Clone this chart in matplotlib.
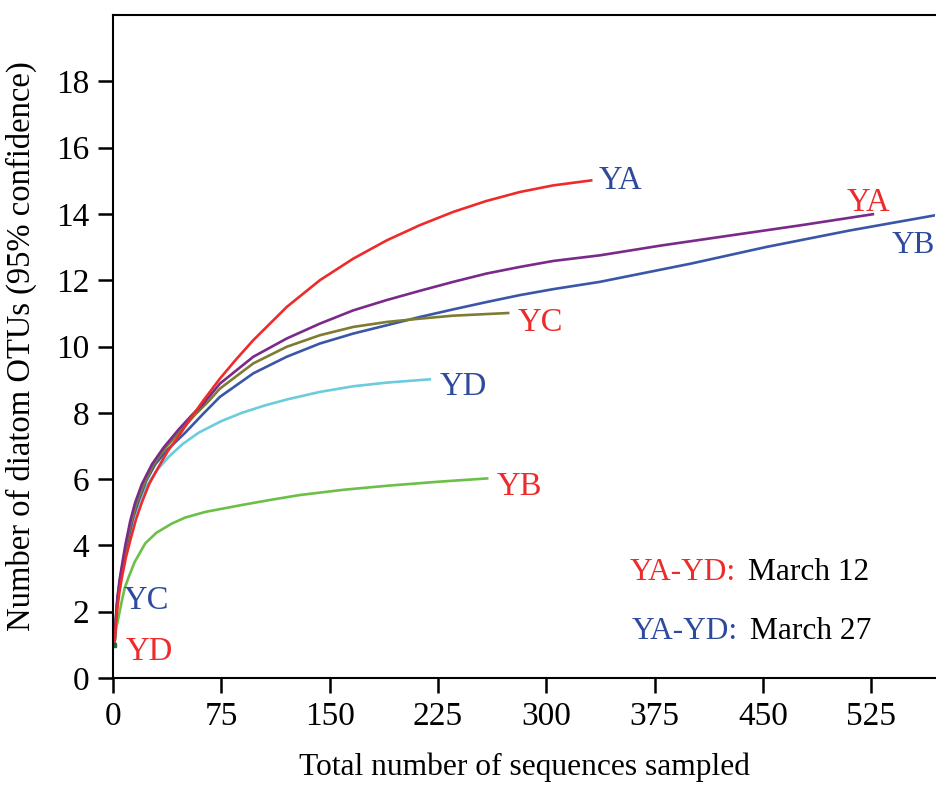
import matplotlib
matplotlib.use("Agg")
import matplotlib.pyplot as plt

plt.rcParams['font.family'] = ['Liberation Serif', 'DejaVu Serif']

# rarefaction curves (sequences sampled, OTUs)
ya12_x = [1, 2, 3, 4.5, 6, 9, 12, 16, 20, 25, 31.6, 38, 45.5, 54, 62.7, 74, 85, 97.1,
          120.2, 143.2, 166.3, 189.4, 212.4, 235.5, 258.5, 281.6, 304.7, 331]
ya12_y = [1, 1.6, 2.1, 2.6, 3.0, 3.65, 4.16, 4.8, 5.3, 5.85, 6.37, 6.85, 7.3, 7.85, 8.38, 9.03, 9.6, 10.19,
          11.19, 12.0, 12.65, 13.2, 13.66, 14.06, 14.39, 14.66, 14.86, 15.01]

ya27_x = [1, 2, 3, 4.5, 6, 8.5, 12, 15.4, 20, 27, 35, 45.5, 55, 62, 74, 97.1, 120.2, 143.2,
          166.3, 189.4, 212.4, 235.5, 258.5, 281.6, 304.7, 337, 380, 429, 475, 526]
ya27_y = [1, 1.8, 2.4, 2.95, 3.35, 4.0, 4.75, 5.3, 5.85, 6.45, 6.95, 7.5, 7.95, 8.25, 8.88, 9.69, 10.24, 10.69,
          11.09, 11.4, 11.68, 11.95, 12.2, 12.4, 12.58, 12.75, 13.05, 13.36, 13.65, 13.99]

yb27_x = [1, 2, 3, 4.5, 6, 8, 10, 14, 17.7, 23, 29.3, 38, 50, 62, 74, 97.1, 120.2, 143.2,
          166.3, 189.4, 212.4, 235.5, 258.5, 281.6, 304.7, 337, 400, 452, 510, 569.4]
yb27_y = [1, 1.75, 2.3, 2.8, 3.2, 3.7, 4.1, 4.85, 5.35, 5.95, 6.45, 6.9, 7.4, 7.95, 8.48, 9.19, 9.69, 10.09,
          10.39, 10.64, 10.89, 11.12, 11.34, 11.55, 11.73, 11.95, 12.5, 13.0, 13.5, 13.96]

yc12_x = [1, 2, 3, 4.5, 6, 9, 12.5, 16.5, 22, 28.2, 37, 47.7, 57, 66.2, 74, 97.1, 120.2,
          143.2, 166.3, 189.4, 212.4, 235.5, 273.5]
yc12_y = [1, 1.8, 2.35, 2.85, 3.25, 4.0, 4.7, 5.3, 5.9, 6.45, 6.98, 7.5, 7.95, 8.35, 8.73, 9.49, 9.99,
          10.34, 10.59, 10.74, 10.84, 10.93, 11.01]

yd27_x = [1, 2, 3, 4.5, 6, 8, 10, 14, 18, 22.3, 30, 38.5, 48, 59.3, 75, 89.3, 105, 120.2,
          143.2, 166.3, 189.4, 219.3]
yd27_y = [1, 1.75, 2.3, 2.8, 3.15, 3.7, 4.1, 4.8, 5.3, 5.72, 6.25, 6.67, 7.05, 7.4, 7.75, 8.0, 8.22, 8.4,
          8.63, 8.8, 8.91, 9.01]

yb12_x = [1, 2, 3.9, 6, 8, 10.9, 15, 22.3, 30, 40.8, 50, 63.9, 89.3, 110, 129.4, 160, 190, 225, 259]
yb12_y = [1, 1.45, 1.85, 2.3, 2.7, 3.05, 3.5, 4.06, 4.38, 4.66, 4.84, 5.01, 5.22, 5.38, 5.52, 5.68, 5.8, 5.92, 6.02]

# single-OTU samples
single_x = [1]
single_y = [1]

xticks = [0, 75, 150, 225, 300, 375, 450, 525]
yticks = [0, 2, 4, 6, 8, 10, 12, 14, 16, 18]

RED = '#ee2b2b'
BLUE = '#2d4a9c'

fig = plt.figure(figsize=(9.36, 7.89), dpi=100)
ax = fig.add_axes([113 / 936, 1 - 678 / 789, 822 / 936, 663 / 789])

lw = 1.9
ax.plot(yb12_x, yb12_y, color='#6cbf47', lw=lw)
ax.plot(yd27_x, yd27_y, color='#6ccbdc', lw=lw)
ax.plot(yb27_x, yb27_y, color='#3a56a6', lw=lw)
ax.plot(yc12_x, yc12_y, color='#7d7c32', lw=lw)
ax.plot(ya27_x, ya27_y, color='#7a2a88', lw=lw)
ax.plot(ya12_x, ya12_y, color=RED, lw=lw)
ax.plot(single_x, single_y, 's', color='#1f6b3a', ms=2.5)

ax.set_xlim(0, 569)
ax.set_ylim(0, 20)
ax.set_xticks(xticks)
ax.set_yticks(yticks)
ax.spines['right'].set_visible(False)
for s in ['left', 'top', 'bottom']:
    ax.spines[s].set_linewidth(1.5)
ax.tick_params(direction='out', length=11, width=1.8, labelsize=24, pad=6)

ax.set_xlabel('Total number of sequences sampled', fontsize=22.7, labelpad=15)
ax.set_ylabel('Number of diatom OTUs (95% confidence)', fontsize=23.5, labelpad=14)

fs = 23.5
ax.text(336, 15.0, 'YA', color=BLUE, fontsize=fs, va='center')
ax.text(508, 14.35, 'YA', color=RED, fontsize=fs, va='center')
ax.text(539, 13.05, 'YB', color=BLUE, fontsize=22.5, va='center')
ax.text(280, 10.73, 'YC', color=RED, fontsize=fs, va='center')
ax.text(226, 8.8, 'YD', color=BLUE, fontsize=fs, va='center')
ax.text(265.5, 5.78, 'YB', color=RED, fontsize=fs, va='center')
ax.text(7.5, 2.32, 'YC', color=BLUE, fontsize=fs, va='center')
ax.text(9, 0.8, 'YD', color=RED, fontsize=fs, va='center')

ax.text(357.5, 3.17, 'YA-YD:', color=RED, fontsize=22.6, va='center')
ax.text(439.5, 3.17, 'March 12', color='black', fontsize=22.6, va='center')
ax.text(359, 1.39, 'YA-YD:', color=BLUE, fontsize=22.6, va='center')
ax.text(441, 1.39, 'March 27', color='black', fontsize=22.6, va='center')

fig.savefig('out.png', dpi=100)
